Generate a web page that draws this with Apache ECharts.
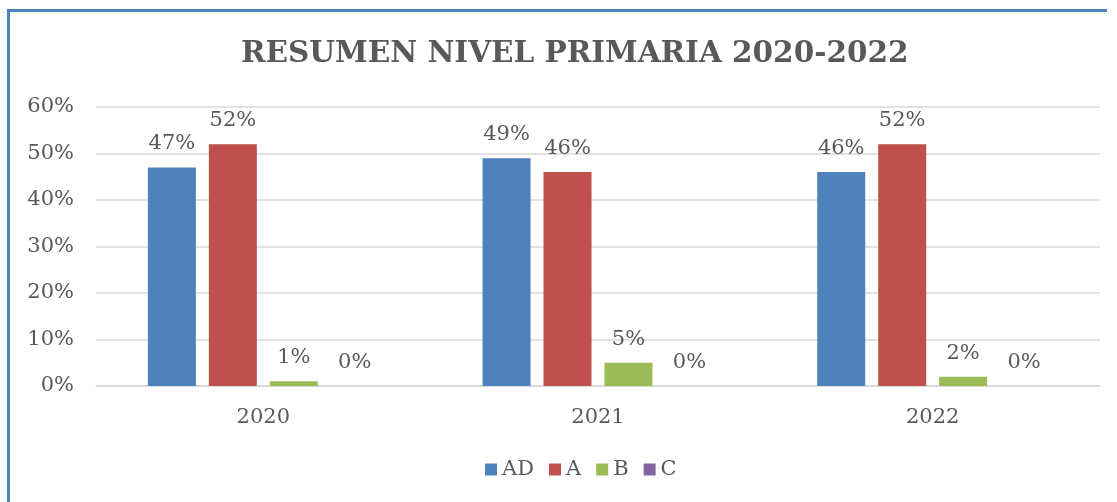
<!DOCTYPE html>
<html>
<head>
<meta charset="utf-8">
<script src="https://cdn.jsdelivr.net/npm/echarts@6/dist/echarts.min.js"></script>
<style>
	html, body { margin: 0; padding: 0; background: #fff; }
	#chart { width: 1117px; height: 502px; }
</style>
</head>
<body>
<div id="chart"></div>
<script>
// datos del gráfico
var years = ["2020", "2021", "2022"]
var serieAD = [0.47, 0.49, 0.46]
var serieA = [0.52, 0.46, 0.52]
var serieB = [0.01, 0.05, 0.02]
var serieC = [0, 0, 0]

var fuente = "DejaVu Serif"
var gris = "#595959"

function pct(v) {
	return Math.round(v * 100) + "%"
}

function barra(nombre, datos, color) {
	return {
		name: nombre,
		type: "bar",
		data: datos,
		barWidth: 48,
		barGap: "27%",
		itemStyle: { color: color },
		label: {
			show: true,
			position: "top",
			distance: 13,
			formatter: function (p) { return pct(p.value) },
			fontFamily: fuente,
			fontSize: 21,
			color: gris
		}
	}
}

var myChart = echarts.init(document.getElementById("chart"))
myChart.setOption({
	animation: false,
	title: {
		text: "RESUMEN NIVEL PRIMARIA 2020-2022",
		left: 236,
		top: 34,
		textStyle: {
			fontFamily: fuente,
			fontWeight: "bold",
			fontSize: 29.5,
			color: gris
		}
	},
	legend: {
		bottom: 17,
		left: 480,
		itemWidth: 12,
		itemHeight: 12,
		itemGap: 15,
		icon: "rect",
		textStyle: { fontFamily: fuente, fontSize: 21, color: gris },
		data: ["AD", "A", "B", "C"]
	},
	grid: {
		left: 96,
		right: 17,
		top: 107,
		bottom: 116
	},
	xAxis: {
		type: "category",
		data: years,
		axisLine: { lineStyle: { color: "#d9d9d9", width: 1.5 } },
		axisTick: { show: false },
		axisLabel: { fontFamily: fuente, fontSize: 21, color: gris, margin: 21 }
	},
	yAxis: {
		type: "value",
		min: 0,
		max: 0.6,
		interval: 0.1,
		axisLine: { show: false },
		axisTick: { show: false },
		splitLine: { lineStyle: { color: "#d9d9d9", width: 1.5 } },
		axisLabel: {
			fontFamily: fuente,
			fontSize: 21,
			color: gris,
			margin: 22,
			formatter: pct
		}
	},
	graphic: [
		{
			type: "line",
			shape: { x1: 8.5, y1: 10.5, x2: 8.5, y2: 502 },
			style: { stroke: "#4f81bd", lineWidth: 3 }
		},
		{
			type: "line",
			shape: { x1: 7, y1: 10.5, x2: 1107, y2: 10.5 },
			style: { stroke: "#4f81bd", lineWidth: 3 }
		}
	],
	series: [
		barra("AD", serieAD, "#4f81bd"),
		barra("A", serieA, "#c0504d"),
		barra("B", serieB, "#9bbb59"),
		barra("C", serieC, "#8064a2")
	]
})
</script>
</body>
</html>
